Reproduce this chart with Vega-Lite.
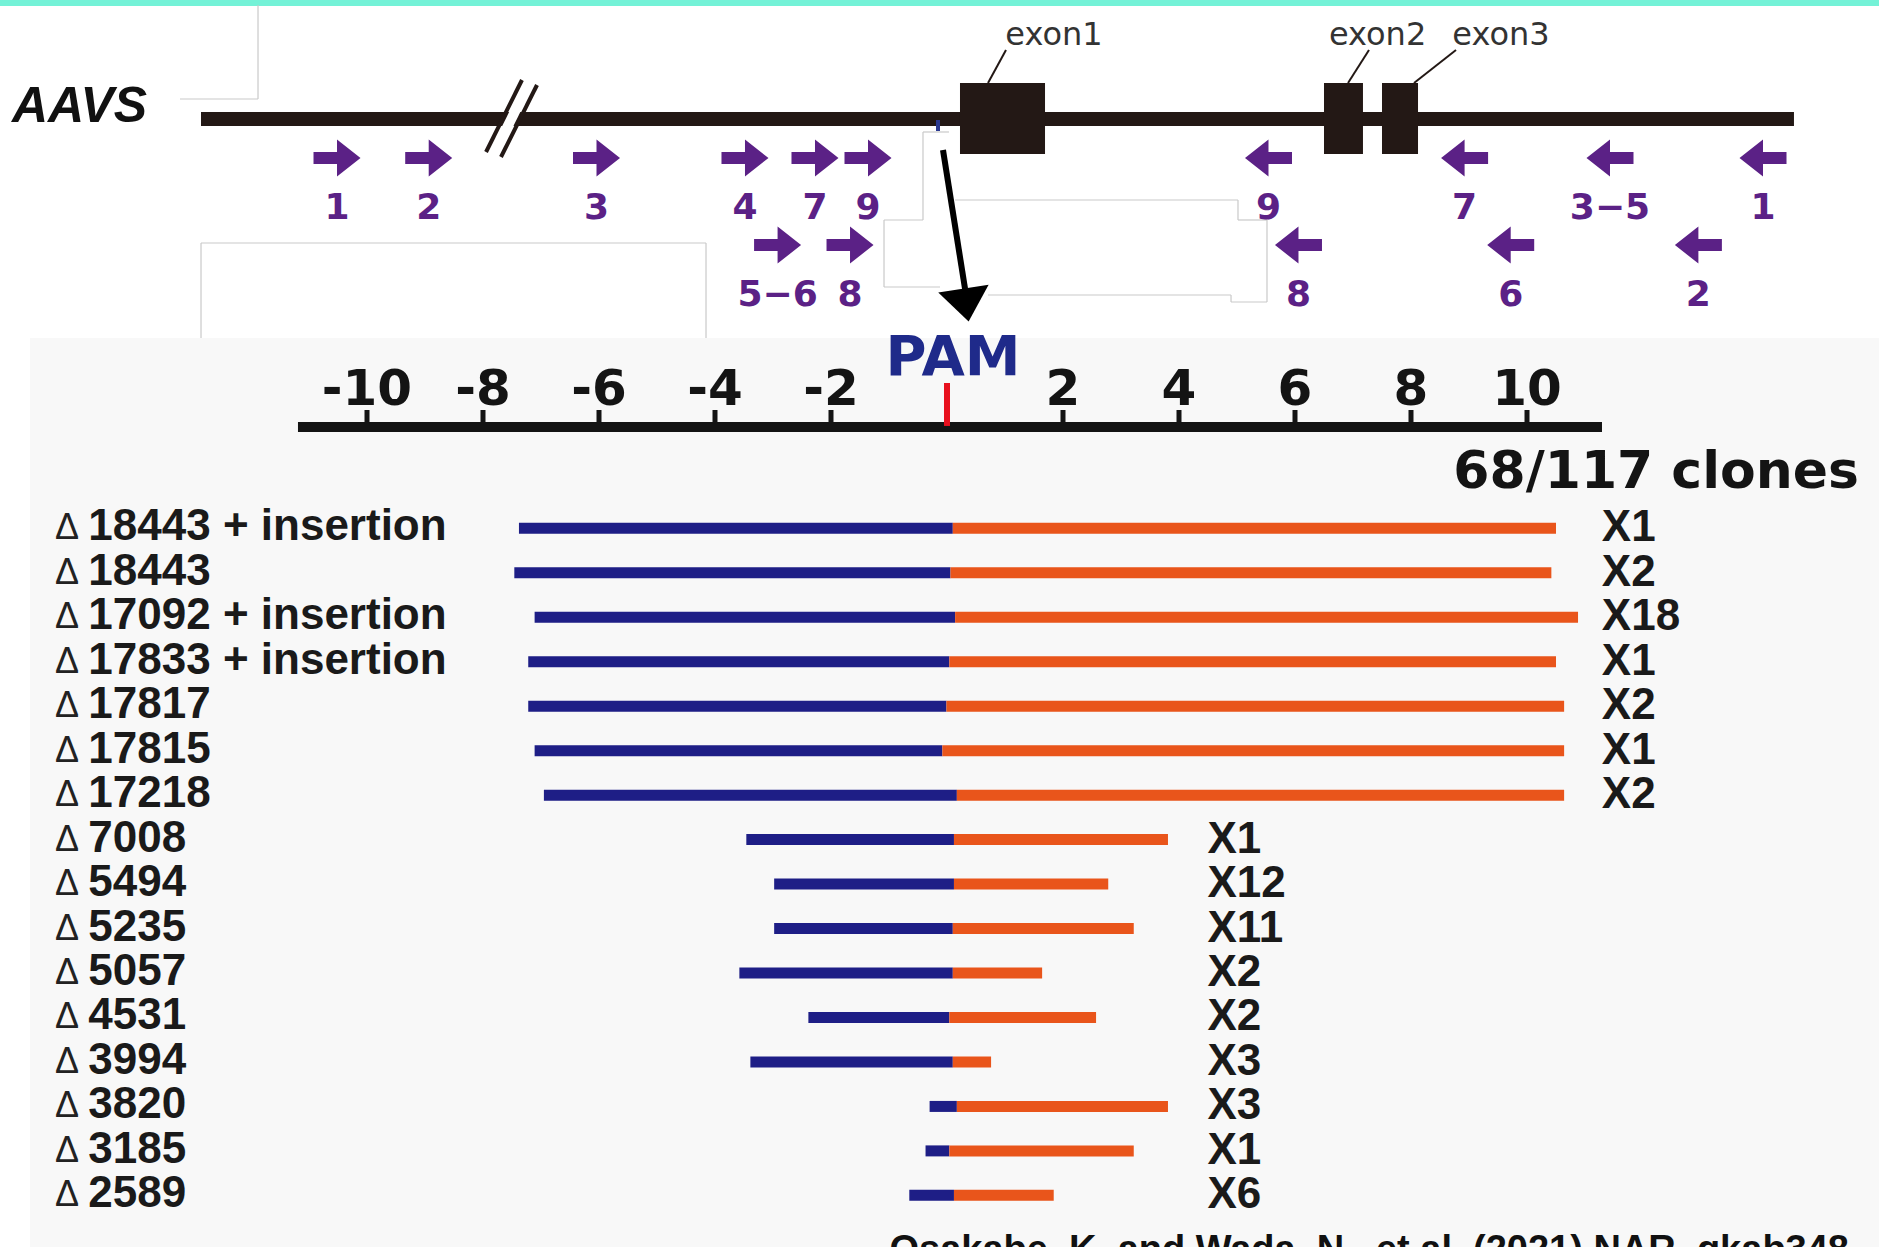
{
"$schema":"https://vega.github.io/schema/vega-lite/v6.json",
"width":1879,"height":1247,
"autosize":{"type":"none"},
"padding":0,
"background":"#ffffff",
"config":{"view":{"stroke":null}},
"datasets":{
 "backdrop":[{"region":"top band","x0":-16.3276,"x1":16.069,"y0":-0.8161,"y1":-0.7471},{"region":"lower panel","x0":-15.81,"x1":16.069,"y0":3.069,"y1":13.5172}],
 "guides":[
  {"x0":-11.879,"x1":-11.879,"y0":-0.7586,"y1":0.3218},
  {"x0":-13.224,"x1":-11.879,"y0":0.3218,"y1":0.3218},
  {"x0":-12.862,"x1":-4.155,"y0":1.977,"y1":1.977},
  {"x0":-12.862,"x1":-12.862,"y0":1.977,"y1":3.069},
  {"x0":-4.155,"x1":-4.155,"y0":1.977,"y1":3.069},
  {"x0":-0.414,"x1":-0.414,"y0":0.7011,"y1":1.7126},
  {"x0":-1.086,"x1":-0.414,"y0":1.7126,"y1":1.7126},
  {"x0":-1.086,"x1":-1.086,"y0":1.7126,"y1":2.4828},
  {"x0":-1.086,"x1":-0.121,"y0":2.4828,"y1":2.4828},
  {"x0":-0.414,"x1":0.034,"y0":0.7011,"y1":0.7011},
  {"x0":0.138,"x1":5.017,"y0":1.4828,"y1":1.4828},
  {"x0":5.017,"x1":5.017,"y0":1.4828,"y1":1.7126},
  {"x0":5.017,"x1":5.517,"y0":1.7126,"y1":1.7126},
  {"x0":5.517,"x1":5.517,"y0":1.7126,"y1":2.6552},
  {"x0":4.897,"x1":5.517,"y0":2.6552,"y1":2.6552},
  {"x0":4.897,"x1":4.897,"y0":2.5747,"y1":2.6552},
  {"x0":0.707,"x1":4.897,"y0":2.5747,"y1":2.5747}
 ],
 "locus":[{"feature":"AAVS locus","start":-12.862,"end":14.603,"y":0.5517}],
 "exons":[
  {"exon":"exon1","start":0.224,"end":1.69,"label_x":1.845,"lead_top":1.017,"lead_bottom":0.707},
  {"exon":"exon2","start":6.5,"end":7.172,"label_x":7.424,"lead_top":7.276,"lead_bottom":6.914},
  {"exon":"exon3","start":7.5,"end":8.121,"label_x":9.552,"lead_top":8.776,"lead_bottom":8.052}
 ],
 "slashes":[{"x0":-7.328,"y0":0.1034,"x1":-7.948,"y1":0.931},{"x0":-7.069,"y0":0.1609,"x1":-7.69,"y1":0.9885}],
 "primers":[
  {"id":"1","dir":"forward","tier":1,"pos":-10.517},
  {"id":"2","dir":"forward","tier":1,"pos":-8.936},
  {"id":"3","dir":"forward","tier":1,"pos":-6.043},
  {"id":"4","dir":"forward","tier":1,"pos":-3.483},
  {"id":"7","dir":"forward","tier":1,"pos":-2.276},
  {"id":"9","dir":"forward","tier":1,"pos":-1.362},
  {"id":"5−6","dir":"forward","tier":2,"pos":-2.921},
  {"id":"8","dir":"forward","tier":2,"pos":-1.672},
  {"id":"9","dir":"reverse","tier":1,"pos":5.543},
  {"id":"7","dir":"reverse","tier":1,"pos":8.924},
  {"id":"3−5","dir":"reverse","tier":1,"pos":11.431},
  {"id":"1","dir":"reverse","tier":1,"pos":14.069},
  {"id":"8","dir":"reverse","tier":2,"pos":6.06},
  {"id":"6","dir":"reverse","tier":2,"pos":9.719},
  {"id":"2","dir":"reverse","tier":2,"pos":12.955}
 ],
 "ticks":[
  {"kb":-10,"label":"-10"},{"kb":-8,"label":"-8"},{"kb":-6,"label":"-6"},{"kb":-4,"label":"-4"},{"kb":-2,"label":"-2"},
  {"kb":2,"label":"2"},{"kb":4,"label":"4"},{"kb":6,"label":"6"},{"kb":8,"label":"8"},{"kb":10,"label":"10"}
 ],
 "clones":[
  {"name":"18443 + insertion","left":-7.38,"junction":0.1,"right":10.5,"clones":"X1"},
  {"name":"18443","left":-7.46,"junction":0.06,"right":10.42,"clones":"X2"},
  {"name":"17092 + insertion","left":-7.11,"junction":0.14,"right":10.88,"clones":"X18"},
  {"name":"17833 + insertion","left":-7.22,"junction":0.04,"right":10.5,"clones":"X1"},
  {"name":"17817","left":-7.22,"junction":-0.01,"right":10.64,"clones":"X2"},
  {"name":"17815","left":-7.11,"junction":-0.08,"right":10.64,"clones":"X1"},
  {"name":"17218","left":-6.95,"junction":0.17,"right":10.64,"clones":"X2"},
  {"name":"7008","left":-3.46,"junction":0.12,"right":3.81,"clones":"X1"},
  {"name":"5494","left":-2.98,"junction":0.12,"right":2.78,"clones":"X12"},
  {"name":"5235","left":-2.98,"junction":0.1,"right":3.22,"clones":"X11"},
  {"name":"5057","left":-3.58,"junction":0.1,"right":1.64,"clones":"X2"},
  {"name":"4531","left":-2.39,"junction":0.04,"right":2.57,"clones":"X2"},
  {"name":"3994","left":-3.39,"junction":0.1,"right":0.76,"clones":"X3"},
  {"name":"3820","left":-0.3,"junction":0.17,"right":3.81,"clones":"X3"},
  {"name":"3185","left":-0.37,"junction":0.04,"right":3.22,"clones":"X1"},
  {"name":"2589","left":-0.65,"junction":0.12,"right":1.84,"clones":"X6"}
 ]
},
"resolve":{"scale":{"y":"independent"}},
"layer":[
 {"layer":[
  {"data":{"name":"backdrop"},"mark":{"type":"rect"},
   "encoding":{"x":{"field":"x0","type":"quantitative","scale":{"domain":[-16.3276,16.069],"nice":false,"zero":false},"axis":null},"x2":{"field":"x1"},
    "y":{"field":"y0","type":"quantitative","scale":{"domain":[-0.8161,13.5172],"nice":false,"zero":false,"reverse":true},"axis":null},"y2":{"field":"y1"},
    "color":{"field":"region","type":"nominal","scale":{"domain":["top band","lower panel"],"range":["#74f2d7","#f8f8f8"]},"legend":null}}},
  {"data":{"name":"guides"},"mark":{"type":"rule","color":"#c9c9c9","strokeWidth":1.2},
   "encoding":{"x":{"field":"x0","type":"quantitative","scale":{"domain":[-16.3276,16.069],"nice":false,"zero":false},"axis":null},"x2":{"field":"x1"},
    "y":{"field":"y0","type":"quantitative","scale":{"domain":[-0.8161,13.5172],"nice":false,"zero":false,"reverse":true},"axis":null},"y2":{"field":"y1"}}},
  {"data":{"name":"locus"},"mark":{"type":"rule","color":"#231815","strokeWidth":14},
   "encoding":{"x":{"field":"start","type":"quantitative","scale":{"domain":[-16.3276,16.069],"nice":false,"zero":false},"axis":null},"x2":{"field":"end"},
    "y":{"field":"y","type":"quantitative","scale":{"domain":[-0.8161,13.5172],"nice":false,"zero":false,"reverse":true},"axis":null}}},
  {"data":{"values":[{}]},"mark":{"type":"rule","color":"#ffffff","strokeWidth":10},
   "encoding":{"x":{"datum":-7.198,"type":"quantitative","scale":{"domain":[-16.3276,16.069],"nice":false,"zero":false},"axis":null},"x2":{"datum":-7.819},
    "y":{"datum":0.1264,"type":"quantitative","scale":{"domain":[-0.8161,13.5172],"nice":false,"zero":false,"reverse":true},"axis":null},"y2":{"datum":0.9655}}},
  {"data":{"name":"slashes"},"mark":{"type":"rule","color":"#231815","strokeWidth":4},
   "encoding":{"x":{"field":"x0","type":"quantitative","scale":{"domain":[-16.3276,16.069],"nice":false,"zero":false},"axis":null},"x2":{"field":"x1"},
    "y":{"field":"y0","type":"quantitative","scale":{"domain":[-0.8161,13.5172],"nice":false,"zero":false,"reverse":true},"axis":null},"y2":{"field":"y1"}}},
  {"data":{"name":"exons"},"mark":{"type":"rect","color":"#231815"},
   "encoding":{"x":{"field":"start","type":"quantitative","scale":{"domain":[-16.3276,16.069],"nice":false,"zero":false},"axis":null},"x2":{"field":"end"},
    "y":{"datum":0.1379,"type":"quantitative","scale":{"domain":[-0.8161,13.5172],"nice":false,"zero":false,"reverse":true},"axis":null},"y2":{"datum":0.954}}},
  {"data":{"name":"exons"},"mark":{"type":"rule","color":"#231815","strokeWidth":2},
   "encoding":{"x":{"field":"lead_top","type":"quantitative","scale":{"domain":[-16.3276,16.069],"nice":false,"zero":false},"axis":null},"x2":{"field":"lead_bottom"},
    "y":{"datum":-0.2414,"type":"quantitative","scale":{"domain":[-0.8161,13.5172],"nice":false,"zero":false,"reverse":true},"axis":null},"y2":{"datum":0.1379}}},
  {"data":{"name":"exons"},"mark":{"type":"text","font":"DejaVu Sans","fontSize":32,"color":"#333333","baseline":"alphabetic","align":"center"},
   "encoding":{"x":{"field":"label_x","type":"quantitative","scale":{"domain":[-16.3276,16.069],"nice":false,"zero":false},"axis":null},
    "y":{"datum":-0.2989,"type":"quantitative","scale":{"domain":[-0.8161,13.5172],"nice":false,"zero":false,"reverse":true},"axis":null},"text":{"field":"exon"}}},
  {"data":{"values":[{}]},"mark":{"type":"text","text":"AAVS","font":"Liberation Sans","fontSize":50,"fontWeight":"bold","fontStyle":"italic","color":"#111111","align":"left","baseline":"alphabetic"},
   "encoding":{"x":{"datum":-16.121,"type":"quantitative","scale":{"domain":[-16.3276,16.069],"nice":false,"zero":false},"axis":null},
    "y":{"datum":0.5862,"type":"quantitative","scale":{"domain":[-0.8161,13.5172],"nice":false,"zero":false,"reverse":true},"axis":null}}},
  {"data":{"name":"primers"},"transform":[{"filter":"datum.dir == 'forward'"}],
   "mark":{"type":"point","shape":"M-1,-0.26L0,-0.26L0,-0.79L1,0L0,0.79L0,0.26L-1,0.26Z","filled":true,"size":2209,"color":"#5b2186","opacity":1,"strokeWidth":0},
   "encoding":{"x":{"field":"pos","type":"quantitative","scale":{"domain":[-16.3276,16.069],"nice":false,"zero":false},"axis":null},
    "y":{"field":"tier","type":"quantitative","scale":{"domain":[-0.8161,13.5172],"nice":false,"zero":false,"reverse":true},"axis":null}}},
  {"data":{"name":"primers"},"transform":[{"filter":"datum.dir == 'reverse'"}],
   "mark":{"type":"point","shape":"M1,-0.26L0,-0.26L0,-0.79L-1,0L0,0.79L0,0.26L1,0.26Z","filled":true,"size":2209,"color":"#5b2186","opacity":1,"strokeWidth":0},
   "encoding":{"x":{"field":"pos","type":"quantitative","scale":{"domain":[-16.3276,16.069],"nice":false,"zero":false},"axis":null},
    "y":{"field":"tier","type":"quantitative","scale":{"domain":[-0.8161,13.5172],"nice":false,"zero":false,"reverse":true},"axis":null}}},
  {"data":{"name":"primers"},
   "mark":{"type":"text","font":"DejaVu Sans","fontWeight":"bold","fontSize":36,"color":"#5b2186","align":"center","baseline":"alphabetic","dy":61},
   "encoding":{"x":{"field":"pos","type":"quantitative","scale":{"domain":[-16.3276,16.069],"nice":false,"zero":false},"axis":null},
    "y":{"field":"tier","type":"quantitative","scale":{"domain":[-0.8161,13.5172],"nice":false,"zero":false,"reverse":true},"axis":null},"text":{"field":"id"}}},
  {"data":{"values":[{}]},"mark":{"type":"rule","color":"#2b3990","strokeWidth":4},
   "encoding":{"x":{"datum":-0.155,"type":"quantitative","scale":{"domain":[-16.3276,16.069],"nice":false,"zero":false},"axis":null},
    "y":{"datum":0.563,"type":"quantitative","scale":{"domain":[-0.8161,13.5172],"nice":false,"zero":false,"reverse":true},"axis":null},"y2":{"datum":0.69}}},
  {"data":{"values":[{}]},"mark":{"type":"rule","color":"#000000","strokeWidth":6},
   "encoding":{"x":{"datum":-0.069,"type":"quantitative","scale":{"domain":[-16.3276,16.069],"nice":false,"zero":false},"axis":null},"x2":{"datum":0.328},
    "y":{"datum":0.908,"type":"quantitative","scale":{"domain":[-0.8161,13.5172],"nice":false,"zero":false,"reverse":true},"axis":null},"y2":{"datum":2.5747}}},
  {"data":{"values":[{}]},"mark":{"type":"point","shape":"M-1,-0.65L1,-0.65L0,0.65Z","filled":true,"size":2601,"angle":-9,"color":"#000000","opacity":1,"strokeWidth":0},
   "encoding":{"x":{"datum":0.328,"type":"quantitative","scale":{"domain":[-16.3276,16.069],"nice":false,"zero":false},"axis":null},
    "y":{"datum":2.6897,"type":"quantitative","scale":{"domain":[-0.8161,13.5172],"nice":false,"zero":false,"reverse":true},"axis":null}}},
  {"data":{"values":[{}]},"mark":{"type":"rule","color":"#141414","strokeWidth":10},
   "encoding":{"x":{"datum":-11.19,"type":"quantitative","scale":{"domain":[-16.3276,16.069],"nice":false,"zero":false},"axis":null},"x2":{"datum":11.293},
    "y":{"datum":4.092,"type":"quantitative","scale":{"domain":[-0.8161,13.5172],"nice":false,"zero":false,"reverse":true},"axis":null}}},
  {"data":{"name":"ticks"},"mark":{"type":"rule","color":"#141414","strokeWidth":5},
   "encoding":{"x":{"field":"kb","type":"quantitative","scale":{"domain":[-16.3276,16.069],"nice":false,"zero":false},"axis":null},
    "y":{"datum":3.8966,"type":"quantitative","scale":{"domain":[-0.8161,13.5172],"nice":false,"zero":false,"reverse":true},"axis":null},"y2":{"datum":4.05}}},
  {"data":{"name":"ticks"},"mark":{"type":"text","font":"DejaVu Sans","fontWeight":"bold","fontSize":50,"color":"#141414","align":"center","baseline":"alphabetic"},
   "encoding":{"x":{"field":"kb","type":"quantitative","scale":{"domain":[-16.3276,16.069],"nice":false,"zero":false},"axis":null},
    "y":{"datum":3.8391,"type":"quantitative","scale":{"domain":[-0.8161,13.5172],"nice":false,"zero":false,"reverse":true},"axis":null},"text":{"field":"label"}}},
  {"data":{"values":[{}]},"mark":{"type":"rule","color":"#e8101e","strokeWidth":6},
   "encoding":{"x":{"datum":0,"type":"quantitative","scale":{"domain":[-16.3276,16.069],"nice":false,"zero":false},"axis":null},
    "y":{"datum":3.5862,"type":"quantitative","scale":{"domain":[-0.8161,13.5172],"nice":false,"zero":false,"reverse":true},"axis":null},"y2":{"datum":4.08}}},
  {"data":{"values":[{}]},"mark":{"type":"text","text":"PAM","font":"DejaVu Sans","fontWeight":"bold","fontSize":56,"color":"#1f2a8a","align":"center","baseline":"alphabetic"},
   "encoding":{"x":{"datum":0.103,"type":"quantitative","scale":{"domain":[-16.3276,16.069],"nice":false,"zero":false},"axis":null},
    "y":{"datum":3.4943,"type":"quantitative","scale":{"domain":[-0.8161,13.5172],"nice":false,"zero":false,"reverse":true},"axis":null}}},
  {"data":{"values":[{}]},"mark":{"type":"text","text":"68/117 clones","font":"DejaVu Sans","fontWeight":"bold","fontSize":52,"color":"#141414","align":"right","baseline":"alphabetic"},
   "encoding":{"x":{"datum":15.724,"type":"quantitative","scale":{"domain":[-16.3276,16.069],"nice":false,"zero":false},"axis":null},
    "y":{"datum":4.7931,"type":"quantitative","scale":{"domain":[-0.8161,13.5172],"nice":false,"zero":false,"reverse":true},"axis":null}}},
  {"data":{"values":[{}]},"mark":{"type":"text","text":"Osakabe, K. and Wada, N., et al. (2021) NAR, gkab348","font":"Liberation Sans","fontWeight":"bold","fontSize":38,"color":"#111111","align":"left","baseline":"alphabetic"},
   "encoding":{"x":{"datum":-0.991,"type":"quantitative","scale":{"domain":[-16.3276,16.069],"nice":false,"zero":false},"axis":null},
    "y":{"datum":13.69,"type":"quantitative","scale":{"domain":[-0.8161,13.5172],"nice":false,"zero":false,"reverse":true},"axis":null}}}
 ]},
 {"data":{"name":"clones"},
  "transform":[{"window":[{"op":"row_number","as":"rank"}]}],
  "encoding":{"y":{"field":"rank","type":"quantitative","axis":null,"scale":{"domain":[-10.88,17.161],"nice":false,"zero":false,"reverse":true}}},
  "layer":[
   {"mark":{"type":"rule","strokeWidth":11,"color":"#1e1e86"},
    "encoding":{"x":{"field":"left","type":"quantitative","scale":{"domain":[-16.3276,16.069],"nice":false,"zero":false},"axis":null},"x2":{"field":"junction"}}},
   {"mark":{"type":"rule","strokeWidth":11,"color":"#e9551b"},
    "encoding":{"x":{"field":"junction","type":"quantitative","scale":{"domain":[-16.3276,16.069],"nice":false,"zero":false},"axis":null},"x2":{"field":"right"}}},
   {"mark":{"type":"text","text":"Δ","font":"Liberation Sans","fontSize":36,"color":"#222222","align":"left","baseline":"alphabetic","dy":11},
    "encoding":{"x":{"datum":-15.379,"type":"quantitative","scale":{"domain":[-16.3276,16.069],"nice":false,"zero":false},"axis":null}}},
   {"mark":{"type":"text","font":"Liberation Sans","fontWeight":"bold","fontSize":44,"color":"#1a1a1a","align":"left","baseline":"alphabetic","dy":12},
    "encoding":{"x":{"datum":-14.805,"type":"quantitative","scale":{"domain":[-16.3276,16.069],"nice":false,"zero":false},"axis":null},"text":{"field":"name"}}},
   {"transform":[{"filter":"datum.right > 5"}],
    "mark":{"type":"text","font":"Liberation Sans","fontWeight":"bold","fontSize":44,"color":"#1a1a1a","align":"left","baseline":"alphabetic","dy":13},
    "encoding":{"x":{"datum":11.29,"type":"quantitative","scale":{"domain":[-16.3276,16.069],"nice":false,"zero":false},"axis":null},"text":{"field":"clones"}}},
   {"transform":[{"filter":"datum.right <= 5"}],
    "mark":{"type":"text","font":"Liberation Sans","fontWeight":"bold","fontSize":44,"color":"#1a1a1a","align":"left","baseline":"alphabetic","dy":13},
    "encoding":{"x":{"datum":4.49,"type":"quantitative","scale":{"domain":[-16.3276,16.069],"nice":false,"zero":false},"axis":null},"text":{"field":"clones"}}}
  ]}
]
}
